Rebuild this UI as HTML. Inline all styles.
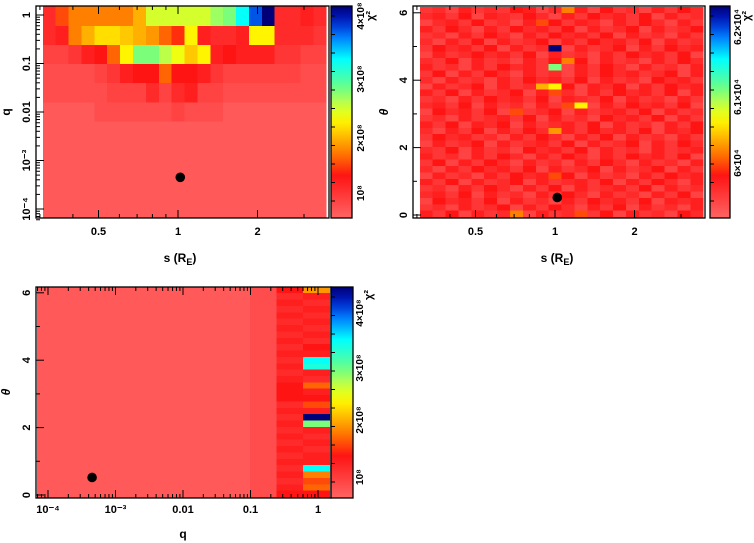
<!DOCTYPE html>
<html><head><meta charset="utf-8"><style>
html,body{margin:0;padding:0;background:#fff;}
svg{display:block;font-family:"Liberation Sans",sans-serif;font-weight:bold;}
</style></head><body>
<svg id="c" width="754" height="543" viewBox="0 0 754 543">
<defs>
<linearGradient id="cmap" x1="0" y1="1" x2="0" y2="0"></linearGradient>
</defs>
</svg>
<script>
// ---------- DATA ----------
const qLogStart = -4.163;
const qLogStep = 0.394;
const sLogStart = -1.70;
const sLogStep = 0.162;
const thStart = -0.06;
const thStep = 0.189;
const p1Rows = [
"59bbbbbdiiiiiklqvz5565",
"56bdffedca8g6556gg5554",
"33467aglljheg676664433",
"222234677a776433333322",
"2222233353563322222222",
"1111222222322211111111",
"1111111111111111111111",
"1111111111111111111111",
"1111111111111111111111",
"1111111111111111111111",
"1111111111111111111111"
];
const p2Rows = [
"4536454763546374536475","5647365475364756473645","3564745365746536475364",
"6475364756473645736457","4536475364756473645364","5364736457364756473645",
"4756473645736457364756","3645756473645364756473","5473645364757364536475",
"6453647564736475364536","4736475364536475645736","5364536475647364537564",
"3645736456473657364756","6473645736453647564736","4536475647365473645364",
"5647364536475364756473","3756473645736456473645","4536456473645375647364",
"6473657364564736453647","5364736475364756473657","4756453647536473645364",
"3645736456473645736475","5473645375647364536456","6453647536475364756473",
"4736475364536475364536","5364756473645736457364","3645364756473645364756",
"6473645736456473647536","4536475364736456473645","5647364536475364536473",
"3756473645364756473656","4536457364753647364536","6473645736456473645375"
];
const p2Special = [[0,11,"b"],[2,9,"9"],[6,10,"z"],[8,11,"b"],[9,10,"l"],[12,9,"d"],[12,10,"g"],[13,10,"9"],[15,12,"g"],[15,11,"9"],[16,7,"9"],[19,10,"c"],[26,10,"9"],[32,7,"b"],[32,12,"9"]];
const p3Col10 = "c6565656576qp65a6796zl656566qb9a7";
const p3Col9  = "756565656565656777565656565656567";
const p3Col8  = "222222222222222222222222222222222";
const p3Col7  = "111111111111111111111111111111111";
const p3Col6  = "111111111111111111111111111111111";
const p3Base  = "1";
const bestS = 1.02, bestQ = 4.5e-4, bestTh = 0.52;
const sTicks = [0.5, 1, 2];
const sTickLabels = ["0.5", "1", "2"];
const qTicks = [1, 0.1, 0.01, 0.001, 0.0001];
const qTickLabels = ["1", "0.1", "0.01", "10⁻³", "10⁻⁴"];
const thTicks = [0, 2, 4, 6];
const cb1Labels = ["10⁸", "2×10⁸", "3×10⁸", "4×10⁸"];
const cb2Labels = ["6×10⁴", "6.1×10⁴", "6.2×10⁴"];

// ---------- COLORMAP ----------
const stops = [[0,[255,100,100]],[0.2,[255,20,20]],[0.3,[255,115,0]],[0.4,[255,200,0]],[0.47,[255,255,0]],[0.55,[180,255,80]],[0.62,[100,255,140]],[0.75,[0,255,255]],[0.85,[0,130,255]],[0.93,[0,30,200]],[1,[0,0,120]]];
function cmap(v){v=Math.max(0,Math.min(1,v));for(let i=1;i<stops.length;i++){if(v<=stops[i][0]){const a=stops[i-1],b=stops[i],t=(v-a[0])/(b[0]-a[0]);return "rgb("+a[1].map((c,k)=>Math.round(c+(b[1][k]-c)*t)).join(",")+")";}}return "rgb(0,0,120)";}
function val(ch){const n=parseInt(ch,36);return isNaN(n)?0.1:n/35;}

// ---------- AXES ----------
const p1x = s => 178 + Math.log2(s)*79.5;
const p1y = q => 15 - Math.log10(q)*48.5;
const p2x = s => 555 + Math.log2(s)*79.5;
const p2y = t => 215 - t*33.7;
const p3x = q => 48 + (Math.log10(q)+4)*67.5;
const p3y = t => 495 - t*33.7;

const svg = document.getElementById('c');
const NS = "http://www.w3.org/2000/svg";
function mk(tag, attrs, parent){const e=document.createElementNS(NS,tag);for(const k in attrs)e.setAttribute(k,attrs[k]);(parent||svg).appendChild(e);return e;}
const grad = document.getElementById('cmap');
for(let i=0;i<=20;i++){mk('stop',{offset:(i*5)+'%','stop-color':cmap(i/20)},grad);}

function cell(g,x0,x1,y0,y1,v,name){
  const r=mk('rect',{x:Math.min(x0,x1),y:Math.min(y0,y1),width:Math.abs(x1-x0)+0.4,height:Math.abs(y1-y0)+0.4,fill:cmap(v),'shape-rendering':'crispEdges'},g);
  
  
}
function txt(x,y,s,opts,parent){const t=mk('text',Object.assign({x:x,y:y,'font-size':11,'text-anchor':'middle'},opts||{}),parent);t.textContent=s;return t;}
function line(x1,y1,x2,y2,parent,w){return mk('line',{x1:x1,y1:y1,x2:x2,y2:y2,stroke:'#000','stroke-width':w||1},parent);}

// ---------- PANEL 1 ----------
const g1 = mk('g',{});


p1Rows.forEach((row,r)=>{
  const lqHi = qLogStart + (p1Rows.length - r)*qLogStep, lqLo = lqHi - qLogStep;
  for(let c=0;c<row.length;c++){
    const ls = sLogStart + c*sLogStep;
    cell(g1,p1x(Math.pow(2,ls)),p1x(Math.pow(2,ls+sLogStep)),p1y(Math.pow(10,lqHi)),p1y(Math.pow(10,lqLo)),val(row[c]),'heatmap-cell');
  }
});
// ---------- PANEL 2 ----------
const g2 = mk('g',{});


const p2Grid = p2Rows.map(r=>r.split(''));
p2Special.forEach(([r,c,ch])=>{p2Grid[r][c]=ch;});
p2Grid.forEach((row,r)=>{
  const tHi = thStart + (p2Grid.length - r)*thStep, tLo = tHi - thStep;
  for(let c=0;c<22;c++){
    const ls = sLogStart + c*sLogStep;
    cell(g2,p2x(Math.pow(2,ls)),p2x(Math.pow(2,ls+sLogStep)),p2y(tHi),p2y(tLo),val(row[c]||'4'),'heatmap-cell');
  }
});
// ---------- PANEL 3 ----------
const g3 = mk('g',{});


const p3Cols = {6:p3Col6,7:p3Col7,8:p3Col8,9:p3Col9,10:p3Col10};
for(let r=0;r<33;r++){
  const tHi = thStart + (33 - r)*thStep, tLo = tHi - thStep;
  for(let c=0;c<11;c++){
    const lq = qLogStart + c*qLogStep;
    const ch = p3Cols[c] ? p3Cols[c][r] : p3Base;
    cell(g3,p3x(Math.pow(10,lq)),p3x(Math.pow(10,lq+qLogStep)),p3y(tHi),p3y(tLo),val(ch),'heatmap-cell');
  }
}

// ---------- FRAMES, TICKS, LABELS ----------
function frame(x,y,w,h,name){const r=mk('rect',{x:x,y:y,width:w,height:h,fill:'none',stroke:'#000','stroke-width':1.3});}
function colorbar(x,y,w,h,name){
  const r=mk('rect',{x:x,y:y,width:w,height:h,fill:'url(#cmap)',stroke:'#000','stroke-width':1.3});
  
  
}
function sAxis(fx,top,bot,labelY,titleX,titleY){
  [0.3,0.4,0.6,0.7,0.8,0.9,3].forEach(s=>{line(fx(s),bot,fx(s),bot-4);line(fx(s),top,fx(s),top+4);});
  sTicks.forEach((s,i)=>{line(fx(s),bot,fx(s),bot-8);line(fx(s),top,fx(s),top+8);
    const t=txt(fx(s),labelY,sTickLabels[i]);});
  const t=mk('text',{x:titleX,y:titleY,'font-size':12,'text-anchor':'middle'});
  
  t.innerHTML='s (R<tspan font-size="9" dy="3">E</tspan><tspan dy="-3">)</tspan>';
}
function thAxis(fy,left,labelX,titleX,titleY){
  for(let t=1;t<=6;t+=1){if(t%2)line(left,fy(t),left+4,fy(t));}
  thTicks.forEach(t=>{line(left,fy(t),left+8,fy(t));
    const e=txt(labelX,fy(t)+4,String(t),{transform:`rotate(-90 ${labelX} ${fy(t)})`});});
  const e=txt(titleX,titleY,'θ',{'font-size':12,'font-style':'italic',transform:`rotate(-90 ${titleX} ${titleY})`});
  
}
function cbLabels(x,ys,labels,chiX,chiY){
  labels.forEach((l,i)=>{const e=txt(x,ys[i],l,{'font-size':10,transform:`rotate(-90 ${x} ${ys[i]})`});});
  const e=txt(chiX,chiY,'χ²',{'font-size':11,transform:`rotate(-90 ${chiX} ${chiY})`});
  
}
function cbTicks(x,y0,y1){for(let y=y0+10;y<y1;y+=18.5){line(x,y,x+4,y);}}

// Panel 1
frame(36,6,293,212,'plot-frame-1');
sAxis(p1x,6,218,235,180,262);
for(let d=-5;d<=0;d++){for(let m=2;m<=9;m++){const q=m*Math.pow(10,d);if(q<6e-5||q>1.5)continue;line(36,p1y(q),40,p1y(q));}}
qTicks.forEach((q,i)=>{line(36,p1y(q),44,p1y(q));const e=txt(26,p1y(q)+4,qTickLabels[i],{transform:`rotate(-90 26 ${p1y(q)})`});});
{const e=txt(10,112,'q',{'font-size':12,transform:'rotate(-90 10 112)'});}
colorbar(331,6,21,212,'colorbar-1');cbTicks(331,6,218);
cbLabels(364,[193,138,79,16],cb1Labels,374,16);

// Panel 2
frame(413,6,292,212,'plot-frame-2');
sAxis(p2x,6,218,235,557,262);
thAxis(p2y,413,403,388,112);
colorbar(710,6,20,212,'colorbar-2');cbTicks(710,6,218);
cbLabels(741,[163,97,27],cb2Labels,750,16);

// Panel 3
frame(36,287,295,211,'plot-frame-3');
for(let d=-5;d<=0;d++){for(let m=2;m<=9;m++){const q=m*Math.pow(10,d);const x=p3x(q);if(x<37||x>330)continue;line(x,498,x,494);line(x,287,x,291);}}
qTicks.forEach((q,i)=>{const x=p3x(q);line(x,498,x,490);line(x,287,x,295);const e=txt(x,513,qTickLabels[i]);});
{const e=txt(183,538,'q',{'font-size':12});}
thAxis(p3y,36,26,10,392);
colorbar(331,287,22,211,'colorbar-3');cbTicks(331,287,498);
cbLabels(363,[477,420,368,313],cb1Labels,372,295);

// markers
[[p1x(bestS),p1y(bestQ),'best-fit-marker-1'],[p2x(bestS),p2y(bestTh),'best-fit-marker-2'],[p3x(bestQ),p3y(bestTh),'best-fit-marker-3']].forEach(([x,y,n])=>{
  const c=mk('circle',{cx:x,cy:y,r:4.8,fill:'#000'});
  
  
});
</script>
</body></html>
